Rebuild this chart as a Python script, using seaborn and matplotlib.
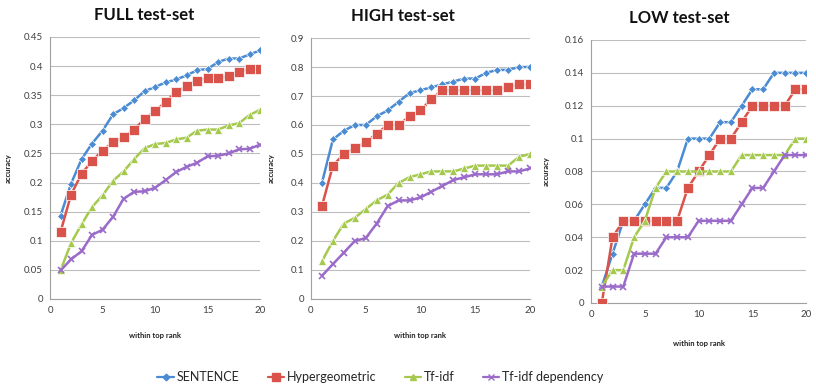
import numpy as np
import pandas as pd
import seaborn as sns
import matplotlib
matplotlib.use("Agg")
import matplotlib.pyplot as plt
from matplotlib.lines import Line2D

sns.set_theme(style="white")
plt.rcParams["font.family"] = ["Lato", "DejaVu Sans"]

ranks = list(range(1, 21))
methods = ["SENTENCE", "Hypergeometric", "Tf-idf", "Tf-idf dependency"]

full_sentence = [0.143, 0.198, 0.240, 0.267, 0.289, 0.317, 0.328, 0.341, 0.357, 0.364,
                 0.372, 0.377, 0.384, 0.393, 0.395, 0.407, 0.413, 0.413, 0.420, 0.427]
full_hyper = [0.115, 0.179, 0.215, 0.237, 0.255, 0.269, 0.278, 0.291, 0.309, 0.323,
              0.338, 0.356, 0.365, 0.375, 0.379, 0.379, 0.383, 0.390, 0.395, 0.395]
full_tfidf = [0.049, 0.096, 0.128, 0.158, 0.178, 0.203, 0.219, 0.240, 0.259, 0.266,
              0.268, 0.274, 0.277, 0.289, 0.291, 0.291, 0.298, 0.302, 0.316, 0.325]
full_tfidf_dep = [0.049, 0.068, 0.082, 0.110, 0.119, 0.141, 0.172, 0.184, 0.185, 0.191,
                  0.204, 0.218, 0.227, 0.234, 0.245, 0.246, 0.250, 0.257, 0.258, 0.265]

high_sentence = [0.40, 0.55, 0.58, 0.60, 0.60, 0.63, 0.65, 0.68, 0.71, 0.72,
                 0.73, 0.74, 0.75, 0.76, 0.76, 0.78, 0.79, 0.79, 0.80, 0.80]
high_hyper = [0.32, 0.46, 0.50, 0.52, 0.54, 0.57, 0.60, 0.60, 0.63, 0.65,
              0.69, 0.72, 0.72, 0.72, 0.72, 0.72, 0.72, 0.73, 0.74, 0.74]
high_tfidf = [0.13, 0.20, 0.26, 0.28, 0.31, 0.34, 0.36, 0.40, 0.42, 0.43,
              0.44, 0.44, 0.44, 0.45, 0.46, 0.46, 0.46, 0.46, 0.49, 0.50]
high_tfidf_dep = [0.08, 0.12, 0.16, 0.20, 0.21, 0.26, 0.32, 0.34, 0.34, 0.35,
                  0.37, 0.39, 0.41, 0.42, 0.43, 0.43, 0.43, 0.44, 0.44, 0.45]

low_sentence = [0.01, 0.03, 0.05, 0.05, 0.06, 0.07, 0.07, 0.08, 0.10, 0.10,
                0.10, 0.11, 0.11, 0.12, 0.13, 0.13, 0.14, 0.14, 0.14, 0.14]
low_hyper = [0.00, 0.04, 0.05, 0.05, 0.05, 0.05, 0.05, 0.05, 0.07, 0.08,
             0.09, 0.10, 0.10, 0.11, 0.12, 0.12, 0.12, 0.12, 0.13, 0.13]
low_tfidf = [0.01, 0.02, 0.02, 0.04, 0.05, 0.07, 0.08, 0.08, 0.08, 0.08,
             0.08, 0.08, 0.08, 0.09, 0.09, 0.09, 0.09, 0.09, 0.10, 0.10]
low_tfidf_dep = [0.01, 0.01, 0.01, 0.03, 0.03, 0.03, 0.04, 0.04, 0.04, 0.05,
                 0.05, 0.05, 0.05, 0.06, 0.07, 0.07, 0.08, 0.09, 0.09, 0.09]

panels = [
    ("FULL test-set", [full_sentence, full_hyper, full_tfidf, full_tfidf_dep],
     np.arange(0, 0.451, 0.05), ["0", "0.05", "0.1", "0.15", "0.2", "0.25", "0.3", "0.35", "0.4", "0.45"]),
    ("HIGH test-set", [high_sentence, high_hyper, high_tfidf, high_tfidf_dep],
     np.arange(0, 0.901, 0.1), ["0", "0.1", "0.2", "0.3", "0.4", "0.5", "0.6", "0.7", "0.8", "0.9"]),
    ("LOW test-set", [low_sentence, low_hyper, low_tfidf, low_tfidf_dep],
     np.arange(0, 0.161, 0.02), ["0", "0.02", "0.04", "0.06", "0.08", "0.1", "0.12", "0.14", "0.16"]),
]

colors = {"SENTENCE": "#4A8BD3", "Hypergeometric": "#D9534A",
          "Tf-idf": "#A5C94E", "Tf-idf dependency": "#9A6BC9"}
markers = {"SENTENCE": "D", "Hypergeometric": "s", "Tf-idf": "^", "Tf-idf dependency": "x"}
msizes = {"SENTENCE": 4.5, "Hypergeometric": 7, "Tf-idf": 6, "Tf-idf dependency": 5}

# axes rectangles in figure fractions, plus title/label offsets (axes fractions)
rects = [
    [0.0613, 0.2314, 0.2574, 0.6735],
    [0.3811, 0.2314, 0.2684, 0.6709],
    [0.7243, 0.2211, 0.2637, 0.6761],
]
title_x = [0.45, 0.42, 0.41]
ylab_x = [-0.18, -0.165, -0.19]
xlab_y = [-0.125, -0.125, -0.14]

fig = plt.figure(figsize=(8.16, 3.89), dpi=100)
fig.patch.set_facecolor("white")

for i, (title, series, yticks, ylabels) in enumerate(panels):
    ax = fig.add_axes(rects[i])
    df = pd.DataFrame({
        "rank": ranks * 4,
        "accuracy": sum(series, []),
        "method": sum([[m] * len(ranks) for m in methods], []),
    })
    for m in methods:
        sub = df[df["method"] == m]
        sns.lineplot(data=sub, x="rank", y="accuracy", ax=ax, color=colors[m],
                     marker=markers[m], markersize=msizes[m], linewidth=1.8,
                     markeredgewidth=1.2 if m == "Tf-idf dependency" else 0.5,
                     markeredgecolor=colors[m] if m == "Tf-idf dependency" else "white",
                     legend=False, zorder=3)
    ax.set_xlim(0, 20)
    ax.set_ylim(yticks[0], yticks[-1])
    ax.set_xticks([0, 5, 10, 15, 20])
    ax.set_yticks(yticks)
    ax.set_yticklabels(ylabels)
    ax.tick_params(axis="both", labelsize=7, colors="#404040", length=3,
                   width=0.6, direction="out", pad=2)
    ax.grid(axis="y", color="#BDBDBD", linewidth=0.8)
    ax.set_axisbelow(True)
    for s in ["top", "right"]:
        ax.spines[s].set_visible(False)
    for s in ["left", "bottom"]:
        ax.spines[s].set_color("#A0A0A0")
        ax.spines[s].set_linewidth(0.8)
    ax.set_xlabel("within top rank", fontsize=5.5, fontweight="bold", color="#202020")
    ax.set_ylabel("accuracy", fontsize=5.5, fontweight="bold", color="#202020")
    ax.xaxis.set_label_coords(0.5, xlab_y[i])
    ax.yaxis.set_label_coords(ylab_x[i], 0.5)
    ax.text(title_x[i], 1.085, title, transform=ax.transAxes, ha="center",
            va="center", fontsize=12, fontweight="bold", color="#111111")

handles = [Line2D([0], [0], color=colors[m], marker=markers[m], markersize=msizes[m] * 0.75,
                  linewidth=1.6, markeredgecolor=colors[m], label=m) for m in methods]
fig.legend(handles=handles, loc="center", bbox_to_anchor=(0.466, 0.03), ncol=4,
           frameon=False, columnspacing=2.3, handlelength=1.3, handletextpad=0.2,
           prop={"size": 9})

fig.savefig("out.png", dpi=100, facecolor="white")
